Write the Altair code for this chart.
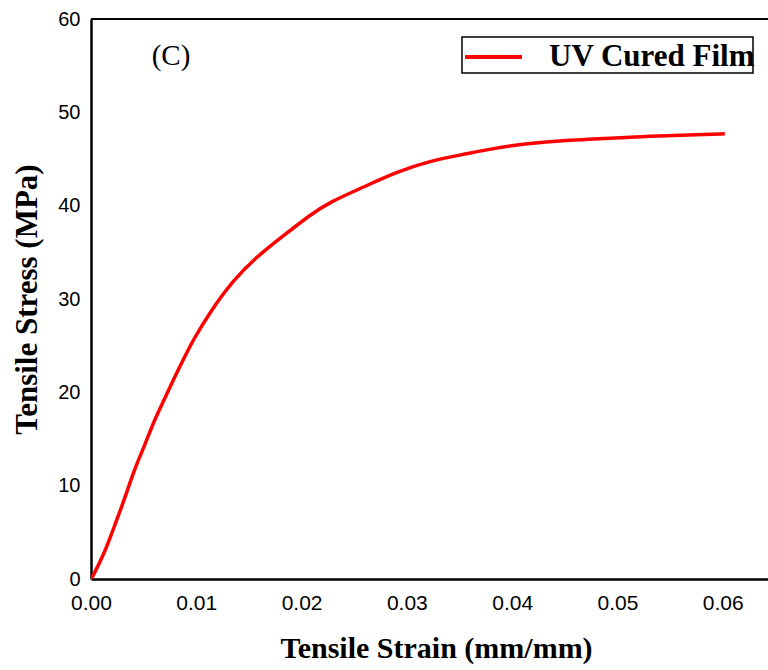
import altair as alt
import pandas as pd

strain = [0, 0.00016, 0.00127, 0.0022, 0.0032, 0.0041, 0.0051, 0.0060, 0.0070, 0.0078,
          0.0088, 0.0097, 0.0113, 0.0135, 0.0157, 0.0183, 0.0208, 0.0227, 0.0259, 0.0290,
          0.0322, 0.0354, 0.0385, 0.0417, 0.0449, 0.0474, 0.0520, 0.0547, 0.0575, 0.0602]
stress = [0, 0.25, 2.75, 5.6, 8.6, 11.7, 14.3, 17.0, 19.3, 21.3,
          23.6, 25.6, 28.6, 32.0, 34.5, 36.8, 39.0, 40.4, 42.0, 43.6,
          44.8, 45.5, 46.2, 46.7, 47.0, 47.1, 47.4, 47.5, 47.6, 47.7]
series_name = "UV Cured Film"
x_ticks = [0, 0.01, 0.02, 0.03, 0.04, 0.05, 0.06]
y_ticks = [0, 10, 20, 30, 40, 50, 60]
panel_label = "(C)"
RED = "#ff0000"

df = pd.DataFrame({"strain": strain, "stress": stress, "series": series_name})

xscale = alt.Scale(domain=[0, 0.0643], nice=False, zero=True)
yscale = alt.Scale(domain=[0, 60], nice=False)

line = alt.Chart(df).mark_line(strokeWidth=3.5, clip=True, interpolate="basis", color=RED).encode(
    x=alt.X("strain:Q", scale=xscale,
            axis=alt.Axis(title="Tensile Strain (mm/mm)", values=x_ticks, format=".2f",
                          labelFont="Liberation Sans", labelFontSize=21, labelColor="black",
                          labelPadding=13, labelFlush=False, ticks=False, grid=False,
                          domainColor="black", domainWidth=2.5,
                          titleFont="Liberation Serif", titleFontSize=30, titleFontWeight="bold",
                          titleColor="black", titlePadding=20, titleX=345)),
    y=alt.Y("stress:Q", scale=yscale,
            axis=alt.Axis(title="Tensile Stress (MPa)", values=y_ticks,
                          labelFont="Liberation Sans", labelFontSize=20, labelColor="black",
                          labelPadding=11, ticks=False, grid=False,
                          domainColor="black", domainWidth=2.5,
                          titleFont="Liberation Serif", titleFontSize=31, titleFontWeight="bold",
                          titleColor="black", titlePadding=14)),
)

top_border = alt.Chart(pd.DataFrame({"y": [60]})).mark_rule(color="black", strokeWidth=2).encode(
    y=alt.Y("y:Q", scale=yscale)
)

label = alt.Chart(pd.DataFrame({"x": [0.0076], "y": [56.0], "t": [panel_label]})).mark_text(
    font="Liberation Serif", fontSize=29, color="black", baseline="middle", align="center"
).encode(x=alt.X("x:Q", scale=xscale), y=alt.Y("y:Q", scale=yscale), text="t:N")

# manual legend (box, line sample, text)
leg_df = pd.DataFrame({"t": [series_name]})
leg_box = alt.Chart(leg_df).mark_rect(fill="white", stroke="black", strokeWidth=1.5).encode(
    x=alt.value(371), x2=alt.value(662), y=alt.value(18), y2=alt.value(54)
)
leg_line = alt.Chart(leg_df).mark_rule(color=RED, strokeWidth=4).encode(
    x=alt.value(374), x2=alt.value(431), y=alt.value(38)
)
leg_text = alt.Chart(leg_df).mark_text(
    font="Liberation Serif", fontSize=31, fontWeight="bold", color="black",
    align="left", baseline="middle"
).encode(x=alt.value(458), y=alt.value(38), text="t:N")

chart = alt.layer(line, top_border, label, leg_box, leg_line, leg_text).properties(
    width=677, height=560,
    autosize=alt.AutoSizeParams(type="none"),
    padding={"left": 91, "top": 19, "right": 0, "bottom": 91},
).configure_view(stroke=None).configure(background="white")

chart.save("out.html", embed_options={"renderer": "svg", "actions": False})
